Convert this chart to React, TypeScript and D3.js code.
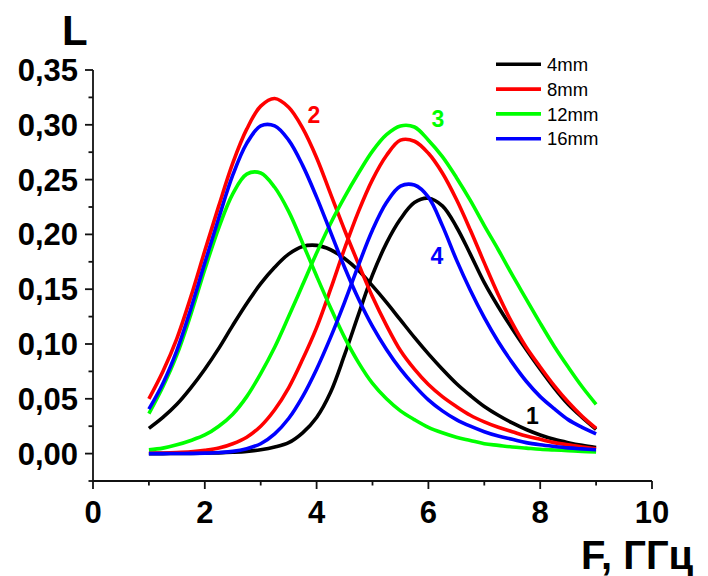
import React from "react";
import * as d3 from "d3";

const freq = [1, 1.25, 1.5, 1.75, 2, 2.25, 2.5, 2.75, 3, 3.25, 3.5, 3.75, 4, 4.25, 4.5, 4.75, 5, 5.25, 5.5, 5.75, 6, 6.25, 6.5, 6.75, 7, 7.25, 7.5, 7.75, 8, 8.25, 8.5, 8.75, 9];

const black1 = [0.023, 0.033, 0.045, 0.06, 0.077, 0.096, 0.117, 0.137, 0.155, 0.17, 0.182, 0.189, 0.19, 0.186, 0.178, 0.167, 0.153, 0.138, 0.122, 0.106, 0.091, 0.077, 0.064, 0.053, 0.043, 0.035, 0.028, 0.022, 0.017, 0.013, 0.01, 0.0075, 0.0055];
const black2 = [0, 0, 0.0001, 0.0002, 0.0004, 0.0007, 0.0012, 0.002, 0.0035, 0.006, 0.01, 0.019, 0.033, 0.056, 0.09, 0.127, 0.163, 0.192, 0.214, 0.229, 0.233, 0.226, 0.207, 0.182, 0.156, 0.134, 0.114, 0.095, 0.077, 0.06, 0.045, 0.033, 0.022];

const red1 = [0.05, 0.075, 0.105, 0.143, 0.185, 0.226, 0.265, 0.296, 0.317, 0.324, 0.316, 0.297, 0.27, 0.237, 0.204, 0.173, 0.143, 0.117, 0.094, 0.077, 0.063, 0.052, 0.043, 0.035, 0.029, 0.024, 0.02, 0.016, 0.013, 0.01, 0.008, 0.006, 0.0045];
const red2 = [0.0004, 0.0006, 0.001, 0.0017, 0.003, 0.005, 0.009, 0.015, 0.025, 0.04, 0.06, 0.086, 0.115, 0.15, 0.187, 0.221, 0.25, 0.272, 0.286, 0.285, 0.274, 0.256, 0.232, 0.204, 0.174, 0.145, 0.119, 0.097, 0.079, 0.062, 0.047, 0.034, 0.023];

const green1 = [0.0365, 0.061, 0.09, 0.127, 0.168, 0.206, 0.237, 0.255, 0.256, 0.243, 0.221, 0.192, 0.162, 0.133, 0.106, 0.083, 0.064, 0.05, 0.039, 0.031, 0.024, 0.019, 0.015, 0.012, 0.009, 0.0075, 0.006, 0.005, 0.004, 0.0033, 0.0027, 0.002, 0.0015];
const green2 = [0.0035, 0.005, 0.008, 0.012, 0.017, 0.025, 0.036, 0.052, 0.073, 0.097, 0.125, 0.154, 0.183, 0.21, 0.234, 0.256, 0.276, 0.291, 0.299, 0.298, 0.286, 0.271, 0.252, 0.231, 0.208, 0.186, 0.163, 0.141, 0.119, 0.098, 0.079, 0.061, 0.045];

const blue1 = [0.0405, 0.064, 0.094, 0.132, 0.174, 0.215, 0.254, 0.283, 0.299, 0.299, 0.286, 0.263, 0.234, 0.202, 0.17, 0.141, 0.116, 0.095, 0.077, 0.062, 0.049, 0.039, 0.031, 0.025, 0.02, 0.016, 0.013, 0.01, 0.008, 0.0065, 0.0052, 0.0043, 0.0035];
const blue2 = [0, 0, 0.0001, 0.0002, 0.0004, 0.001, 0.002, 0.0045, 0.009, 0.018, 0.032, 0.052, 0.077, 0.106, 0.138, 0.172, 0.204, 0.229, 0.244, 0.245, 0.234, 0.208, 0.177, 0.149, 0.124, 0.102, 0.083, 0.066, 0.052, 0.041, 0.031, 0.024, 0.018];

const legendLabels = ["4mm", "8mm", "12mm", "16mm"];
const colors = ["#000000", "#ff0000", "#00ff00", "#0000ff"];
const seriesPairs = [
  [black1, black2],
  [red1, red2],
  [green1, green2],
  [blue1, blue2],
];

const xMajor = [0, 2, 4, 6, 8, 10];
const xMinor = [1, 3, 5, 7, 9];
const yMajor = [0, 0.05, 0.1, 0.15, 0.2, 0.25, 0.3, 0.35];
const yMinor = [-0.025, 0.025, 0.075, 0.125, 0.175, 0.225, 0.275, 0.325];
const yTickLabels = ["0,00", "0,05", "0,10", "0,15", "0,20", "0,25", "0,30", "0,35"];

const curveLabels = [
  { text: "1", f: 7.86, v: 0.034, color: "#000000" },
  { text: "2", f: 3.95, v: 0.309, color: "#ff0000" },
  { text: "3", f: 6.17, v: 0.305, color: "#00ff00" },
  { text: "4", f: 6.15, v: 0.18, color: "#0000ff" },
];

export default function App() {
  const W = 708;
  const H = 576;
  const x = d3.scaleLinear().domain([0, 10]).range([93, 652]);
  const y = d3.scaleLinear().domain([-0.025, 0.35]).range([481, 70]);
  const line = d3
    .line<number>()
    .x((_, i) => x(freq[i]))
    .y((d) => y(d))
    .curve(d3.curveCatmullRom.alpha(0.5));

  const font = "'Liberation Sans', Arial, sans-serif";
  const axisColor = "#111";

  return (
    <svg
      width={W}
      height={H}
      style={{ position: "absolute", left: 0, top: 0, background: "#fff" }}
      fontFamily={font}
    >
      {seriesPairs.map((pair, si) =>
        pair.map((vals, k) => (
          <path
            key={`c${si}-${k}`}
            d={line(vals) || ""}
            fill="none"
            stroke={colors[si]}
            strokeWidth={3.6}
          />
        ))
      )}

      <line x1={x(0)} x2={x(0)} y1={y(-0.025)} y2={y(0.35)} stroke={axisColor} strokeWidth={1.8} />
      <line x1={x(0)} x2={x(10)} y1={y(-0.025)} y2={y(-0.025)} stroke={axisColor} strokeWidth={1.8} />

      {yMajor.map((v, i) => (
        <g key={`ym${i}`}>
          <line x1={x(0) - 8} x2={x(0)} y1={y(v)} y2={y(v)} stroke={axisColor} strokeWidth={1.8} />
          <text x={78} y={y(v) + 11} textAnchor="end" fontSize={31} fontWeight="bold" fill="#000">
            {yTickLabels[i]}
          </text>
        </g>
      ))}
      {yMinor.map((v, i) => (
        <line key={`yn${i}`} x1={x(0) - 4.5} x2={x(0)} y1={y(v)} y2={y(v)} stroke={axisColor} strokeWidth={1.8} />
      ))}

      {xMajor.map((v, i) => (
        <g key={`xm${i}`}>
          <line x1={x(v)} x2={x(v)} y1={y(-0.025)} y2={y(-0.025) + 8} stroke={axisColor} strokeWidth={1.8} />
          <text x={x(v)} y={523} textAnchor="middle" fontSize={31} fontWeight="bold" fill="#000">
            {String(v)}
          </text>
        </g>
      ))}
      {xMinor.map((v, i) => (
        <line key={`xn${i}`} x1={x(v)} x2={x(v)} y1={y(-0.025)} y2={y(-0.025) + 4.5} stroke={axisColor} strokeWidth={1.8} />
      ))}

      <text x={62} y={45} fontSize={42} fontWeight="bold" fill="#000">
        L
      </text>
      <text x={581} y={569} fontSize={40} fontWeight="bold" fill="#000">
        F, ГГц
      </text>

      {curveLabels.map((c, i) => (
        <text
          key={`cl${i}`}
          x={x(c.f)}
          y={y(c.v) + 8}
          textAnchor="middle"
          fontSize={23}
          fontWeight="bold"
          fill={c.color}
        >
          {c.text}
        </text>
      ))}

      {legendLabels.map((lab, i) => {
        const ly = 64.3 + i * 24.8;
        return (
          <g key={`lg${i}`}>
            <line x1={496} x2={541} y1={ly} y2={ly} stroke={colors[i]} strokeWidth={3.6} />
            <text x={547} y={ly + 6.6} fontSize={18.5} fill="#000">
              {lab}
            </text>
          </g>
        );
      })}
    </svg>
  );
}
